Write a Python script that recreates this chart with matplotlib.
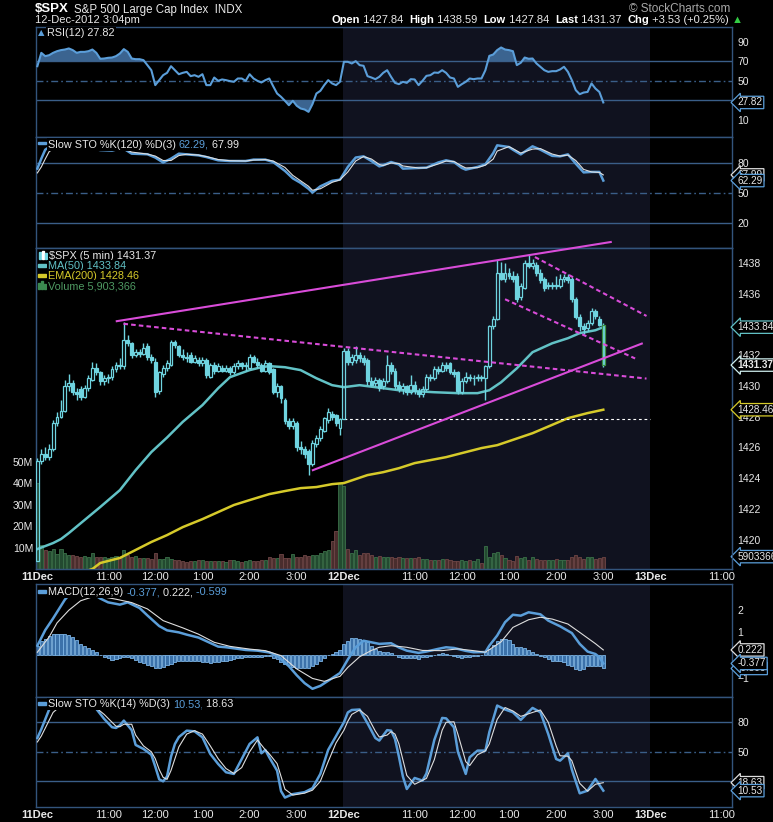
import matplotlib
matplotlib.use("Agg")
import matplotlib.pyplot as plt
from matplotlib.patches import Rectangle

plt.rcParams["font.family"] = ["Liberation Sans", "DejaVu Sans"]

# ==========================================
# 1. data (5 min bars, 11-12 Dec 2012)
# ==========================================

opens = [
    1418.6, 1425.1, 1425.6, 1425.4, 1425.9, 1427.6, 1428.0, 1428.4, 1430.0, 1430.2,
    1429.6, 1429.8, 1429.3, 1429.9, 1430.4, 1431.2, 1430.9, 1430.3, 1430.5, 1430.6,
    1431.1, 1431.4, 1431.3, 1433.0, 1432.8, 1432.0, 1432.2, 1432.1, 1432.6, 1431.9,
    1431.6, 1429.7, 1430.8, 1431.2, 1431.4, 1432.9, 1432.6, 1432.0, 1431.9, 1432.0,
    1431.6, 1431.7, 1431.5, 1431.7, 1430.6, 1431.4, 1431.0, 1431.2, 1431.0, 1431.2,
    1430.9, 1431.3, 1431.5, 1431.3, 1431.2, 1431.9, 1431.6, 1431.4, 1431.0, 1431.5,
    1431.1, 1429.6, 1430.0, 1429.1, 1427.7, 1427.4, 1427.6, 1426.0, 1425.9, 1425.8,
    1424.9, 1426.2, 1426.6, 1427.1, 1427.8, 1428.2, 1428.1, 1427.3,
    1427.84, 1432.3,
    1431.6, 1431.7, 1432.0, 1431.8, 1431.7, 1430.3, 1430.2, 1430.4, 1430.0, 1430.3,
    1431.4, 1431.0, 1430.1, 1429.8, 1430.0, 1429.6, 1430.1, 1429.7, 1429.5, 1429.8,
    1430.6, 1430.5, 1431.1, 1431.0, 1431.4, 1431.5, 1430.9, 1430.9, 1429.6, 1430.3,
    1430.6, 1430.5, 1430.5, 1430.6, 1430.5, 1431.3, 1433.9, 1434.4, 1437.4, 1437.0,
    1437.4, 1437.2, 1437.2, 1435.8, 1436.4, 1438.0, 1437.8, 1437.9, 1437.4, 1437.0,
    1436.5, 1436.5, 1436.6, 1436.5, 1437.0, 1437.1, 1437.0, 1435.7, 1434.5, 1433.9,
    1433.8, 1434.1, 1434.9, 1434.4, 1434.0,
]
highs = [
    1425.3, 1425.9, 1426.0, 1426.2, 1427.8, 1428.3, 1429.1, 1430.4, 1430.8, 1430.4,
    1429.9, 1430.0, 1430.1, 1430.7, 1431.6, 1431.5, 1431.0, 1430.7, 1430.8, 1431.3,
    1431.6, 1431.8, 1434.2, 1433.3, 1432.9, 1432.4, 1432.4, 1432.8, 1432.8, 1432.1,
    1431.8, 1431.0, 1431.4, 1431.7, 1433.0, 1433.0, 1432.7, 1432.4, 1432.2, 1432.2,
    1432.0, 1431.9, 1431.9, 1431.8, 1431.5, 1431.6, 1431.5, 1431.4, 1431.4, 1431.3,
    1431.5, 1431.7, 1431.6, 1431.6, 1432.1, 1432.0, 1431.8, 1431.5, 1431.7, 1431.6,
    1431.2, 1430.2, 1430.1, 1429.2, 1427.9, 1427.9, 1427.7, 1426.4, 1426.1, 1425.9,
    1426.5, 1426.8, 1427.4, 1428.0, 1428.6, 1428.4, 1428.2, 1427.9,
    1432.5, 1432.5,
    1432.1, 1432.6, 1432.2, 1432.0, 1431.8, 1430.6, 1430.6, 1430.5, 1430.5, 1432.0,
    1431.6, 1431.2, 1430.3, 1430.2, 1430.1, 1430.7, 1430.3, 1429.9, 1430.0, 1430.8,
    1430.8, 1431.3, 1431.3, 1431.6, 1431.6, 1431.6, 1431.1, 1431.0, 1430.5, 1430.9,
    1430.8, 1430.7, 1430.8, 1430.7, 1431.4, 1434.0, 1434.6, 1438.2, 1438.1, 1438.0,
    1437.7, 1437.5, 1437.4, 1436.7, 1438.2, 1438.59, 1438.3, 1438.1, 1437.6, 1437.1,
    1436.8, 1436.8, 1437.2, 1437.3, 1437.3, 1437.3, 1437.1, 1435.8, 1434.7, 1434.1,
    1434.3, 1435.1, 1435.0, 1434.6, 1434.1,
]
lows = [
    1418.6, 1424.9, 1425.2, 1425.2, 1425.8, 1427.4, 1427.9, 1428.3, 1429.7, 1429.4,
    1429.1, 1429.1, 1429.2, 1429.7, 1430.3, 1430.7, 1430.1, 1430.1, 1430.2, 1430.4,
    1430.9, 1431.1, 1431.1, 1432.6, 1431.8, 1431.9, 1431.9, 1432.0, 1431.7, 1431.5,
    1429.3, 1429.5, 1430.6, 1431.0, 1431.3, 1432.5, 1431.9, 1431.7, 1431.6, 1431.5,
    1431.5, 1431.3, 1431.3, 1430.5, 1430.5, 1430.8, 1430.9, 1430.9, 1430.9, 1430.7,
    1430.8, 1431.1, 1431.1, 1431.0, 1431.1, 1431.5, 1431.2, 1430.9, 1430.9, 1430.8,
    1429.5, 1429.3, 1428.9, 1427.5, 1427.2, 1427.2, 1425.8, 1425.6, 1425.3, 1424.2,
    1424.8, 1426.0, 1426.4, 1427.0, 1427.6, 1427.8, 1427.4, 1426.8,
    1427.84, 1431.4,
    1431.4, 1431.5, 1431.6, 1431.4, 1430.1, 1430.0, 1430.0, 1429.7, 1429.8, 1430.2,
    1430.8, 1429.8, 1429.6, 1429.5, 1429.4, 1429.5, 1429.5, 1429.3, 1429.3, 1429.7,
    1430.3, 1430.4, 1430.8, 1430.9, 1431.0, 1430.8, 1430.6, 1429.5, 1429.5, 1430.2,
    1430.3, 1430.1, 1430.3, 1430.3, 1429.1, 1431.2, 1433.7, 1434.3, 1436.9, 1436.8,
    1437.0, 1436.8, 1435.5, 1435.6, 1436.3, 1437.7, 1437.6, 1437.2, 1436.7, 1436.2,
    1436.3, 1436.3, 1436.3, 1436.4, 1436.8, 1436.7, 1435.5, 1434.4, 1433.6, 1433.4,
    1433.6, 1434.0, 1434.4, 1433.9, 1431.23,
]
closes = [
    1425.1, 1425.6, 1425.4, 1425.9, 1427.6, 1428.0, 1428.4, 1430.0, 1430.2, 1429.6,
    1429.5, 1429.3, 1429.9, 1430.5, 1431.2, 1430.9, 1430.3, 1430.5, 1430.6, 1431.1,
    1431.4, 1431.3, 1433.0, 1432.8, 1432.0, 1432.2, 1432.1, 1432.5, 1431.9, 1431.7,
    1429.6, 1430.9, 1431.2, 1431.5, 1432.9, 1432.7, 1432.0, 1431.9, 1431.8, 1431.6,
    1431.8, 1431.5, 1431.7, 1430.7, 1431.4, 1431.0, 1431.3, 1431.0, 1431.2, 1430.9,
    1431.3, 1431.5, 1431.3, 1431.4, 1431.9, 1431.6, 1431.4, 1431.0, 1431.5, 1430.9,
    1429.6, 1430.0, 1429.2, 1427.7, 1427.4, 1427.7, 1426.0, 1425.9, 1425.6, 1424.9,
    1426.3, 1426.6, 1427.2, 1427.9, 1428.3, 1428.0, 1427.6, 1427.84,
    1432.3, 1431.6,
    1431.9, 1432.0, 1431.8, 1431.6, 1430.3, 1430.1, 1430.4, 1429.9, 1430.3, 1431.4,
    1431.0, 1430.0, 1429.8, 1430.0, 1429.6, 1430.1, 1429.7, 1429.5, 1429.8, 1430.6,
    1430.5, 1431.1, 1431.0, 1431.4, 1431.2, 1430.9, 1430.8, 1429.7, 1430.3, 1430.6,
    1430.5, 1430.5, 1430.6, 1430.5, 1431.3, 1433.9, 1434.4, 1437.4, 1437.0, 1437.4,
    1437.2, 1437.0, 1435.7, 1436.5, 1438.0, 1437.8, 1438.0, 1437.4, 1436.9, 1436.4,
    1436.6, 1436.6, 1436.5, 1437.0, 1437.1, 1436.9, 1435.7, 1434.5, 1433.9, 1433.7,
    1434.1, 1434.9, 1434.6, 1434.0, 1431.37,
]

# volume in millions
volumes = [
    40.0, 11.3, 9.0, 8.5, 9.4, 7.1, 9.4, 7.8, 6.6, 6.6,
    6.4, 5.9, 6.4, 5.9, 7.6, 5.7, 5.7, 5.9, 5.2, 5.5,
    6.1, 5.9, 9.0, 6.6, 5.9, 6.1, 5.2, 5.4, 5.2, 4.6,
    7.6, 4.8, 4.8, 5.5, 4.6, 4.2, 4.2, 3.9, 3.5, 3.7,
    3.9, 4.2, 4.2, 3.7, 3.7, 3.7, 3.7, 3.7, 3.5, 4.2,
    4.2, 3.9, 3.5, 3.7, 4.2, 3.9, 3.9, 4.2, 4.2, 5.7,
    5.2, 5.2, 7.1, 5.2, 5.2, 7.1, 5.9, 5.7, 6.6, 6.1,
    6.6, 6.6, 7.6, 8.4, 8.9, 13.4, 18.0, 40.0,
    39.0, 9.4,
    7.8, 9.0, 6.6, 7.6, 7.6, 6.6, 5.9, 6.1, 5.9, 5.5,
    5.9, 5.2, 5.5, 5.3, 5.4, 5.2, 5.2, 5.7, 4.9, 4.6,
    4.2, 4.2, 4.2, 4.8, 4.8, 4.2, 3.9, 3.9, 4.2, 3.9,
    4.2, 3.9, 4.6, 3.0, 10.8, 5.9, 7.6, 8.1, 6.6, 5.2,
    4.2, 3.9, 6.1, 5.2, 5.9, 4.2, 5.5, 4.6, 4.2, 4.2,
    4.2, 4.2, 4.6, 4.2, 4.2, 4.2, 5.9, 6.6, 5.9, 4.6,
    5.5, 5.5, 4.6, 5.2, 5.9,
]
last_volume = 5.903366

ma_idx = [0, 4, 6, 8, 12, 16, 21, 25, 29, 33, 37, 42, 46, 49, 54, 57, 59, 63,
          67, 71, 75, 78, 82, 86, 92, 101, 107, 112, 115, 118, 122, 126, 131,
          135, 138, 142, 144]
ma50 = [1419.38, 1419.77, 1420.03, 1420.42, 1421.27, 1422.12, 1423.22, 1424.52,
        1425.70, 1426.65, 1427.67, 1428.76, 1429.86, 1430.58, 1431.04, 1431.23,
        1431.30, 1431.23, 1431.04, 1430.51, 1430.06, 1429.93, 1430.06, 1429.93,
        1429.73, 1429.60, 1429.54, 1429.54, 1429.73, 1430.25, 1431.16, 1432.21,
        1432.79, 1433.12, 1433.45, 1433.64, 1433.84]

ema_idx = [10, 14, 16, 21, 25, 29, 33, 37, 42, 46, 50, 54, 59, 63, 67, 71, 75,
           78, 84, 88, 92, 96, 104, 113, 117, 126, 135, 140, 144]
ema200 = [1417.75, 1418.08, 1418.47, 1418.80, 1419.32, 1419.84, 1420.29, 1420.81,
          1421.33, 1421.79, 1422.25, 1422.57, 1422.96, 1423.16, 1423.35, 1423.42,
          1423.61, 1423.68, 1424.20, 1424.39, 1424.65, 1424.98, 1425.37, 1425.96,
          1426.15, 1426.93, 1427.91, 1428.24, 1428.46]

rsi = [
    65.0, 78.7, 75.3, 76.3, 78.7, 80.4, 81.5, 82.1, 83.2, 81.5,
    78.7, 79.7, 79.7, 80.4, 82.1, 78.7, 72.6, 72.9, 73.6, 73.9,
    75.3, 78.0, 82.5, 79.7, 72.9, 72.2, 72.2, 71.2, 66.1, 60.9,
    45.6, 50.7, 55.8, 58.2, 65.0, 60.9, 56.8, 58.2, 59.2, 54.8,
    55.8, 54.1, 56.8, 45.6, 45.6, 53.4, 50.0, 51.4, 50.7, 49.7,
    49.0, 52.4, 52.4, 50.0, 56.8, 52.4, 50.0, 48.3, 50.7, 52.4,
    44.5, 37.0, 33.6, 29.5, 25.0, 29.5, 24.4, 21.6, 20.6, 18.2,
    26.1, 37.0, 39.7, 45.6, 50.7, 47.3, 45.6, 49.0, 69.5, 69.5,
    67.8, 70.2, 66.1, 65.4, 54.8, 53.4, 51.7, 54.1, 58.2, 60.9,
    54.1, 47.9, 46.6, 49.0, 47.9, 51.7, 51.4, 45.6, 50.0, 55.1,
    55.8, 58.5, 58.2, 60.9, 58.2, 53.4, 52.4, 43.8, 46.6, 49.0,
    52.4, 51.7, 52.4, 52.4, 60.9, 75.6, 77.0, 81.5, 84.2, 82.1,
    81.5, 80.4, 66.1, 68.5, 73.9, 72.6, 72.9, 67.8, 64.4, 60.9,
    59.2, 59.9, 59.9, 61.6, 64.4, 59.2, 50.7, 40.4, 36.3, 38.0,
    38.6, 47.3, 42.1, 38.6, 27.82,
]

sto120_idx = [0, 1, 2, 3, 5, 8, 10, 13, 16, 19, 21, 22, 24, 28, 30, 32, 34, 36,
              38, 41, 43, 46, 49, 53, 55, 58, 60, 63, 65, 67, 69, 70, 72, 75, 77,
              79, 81, 83, 85, 87, 88, 90, 92, 93, 97, 99, 102, 104, 106, 108, 109,
              112, 114, 116, 117, 120, 121, 123, 126, 128, 131, 133, 135, 137,
              139, 141, 143, 144]
sto120_k = [74.3, 84.4, 93.4, 96.0, 97.0, 95.5, 94.8, 95.5, 93.0, 92.5, 94.5, 94.4,
            89.4, 88.8, 85.5, 80.5, 84.4, 89.4, 88.7, 87.7, 86.0, 82.7, 82.0, 82.0,
            83.4, 83.4, 81.0, 72.0, 64.5, 59.9, 54.0, 50.2, 56.5, 62.0, 63.2, 76.0,
            85.5, 86.7, 82.0, 76.6, 77.7, 81.0, 78.5, 74.3, 75.0, 75.3, 80.5, 82.7,
            81.0, 75.0, 73.3, 76.0, 78.7, 90.0, 97.8, 96.1, 93.4, 88.7, 96.8, 93.4,
            87.2, 86.7, 88.7, 79.3, 70.5, 71.0, 71.0, 62.29]
sto120_d = [70.0, 76.0, 84.0, 91.5, 96.5, 96.0, 95.0, 95.2, 93.5, 92.8, 93.5, 94.2,
            91.0, 89.0, 87.0, 82.5, 82.5, 87.5, 88.8, 88.0, 86.5, 83.5, 82.3, 82.0,
            83.0, 83.4, 82.0, 75.5, 67.5, 62.0, 56.5, 52.5, 54.0, 60.5, 63.0, 71.0,
            82.0, 86.5, 84.0, 78.5, 77.5, 80.0, 79.5, 77.0, 75.0, 75.2, 79.0, 82.0,
            81.5, 77.0, 75.0, 75.3, 77.8, 84.0, 92.0, 96.5, 94.5, 90.0, 94.0, 94.5,
            89.0, 87.0, 88.0, 82.5, 73.5, 71.0, 70.5, 67.99]

macd_idx = [0, 2, 4, 7, 9, 11, 13, 16, 18, 21, 23, 26, 28, 31, 33, 36, 38, 41,
            43, 46, 48, 51, 53, 56, 59, 61, 64, 66, 68, 70, 72, 75, 77, 79, 81,
            83, 85, 87, 90, 92, 94, 97, 99, 102, 104, 106, 109, 111, 114, 115,
            117, 119, 121, 123, 125, 128, 130, 133, 136, 138, 140, 142, 143, 144]
macd_line = [0.41, 1.10, 1.62, 2.45, 2.85, 3.00, 2.85, 2.50, 2.33, 2.23, 2.33,
             2.08, 1.75, 1.28, 1.09, 1.00, 0.90, 0.77, 0.61, 0.37, 0.34, 0.27,
             0.22, 0.19, 0.11, -0.03, -0.50, -0.90, -1.25, -1.50, -1.37, -1.03,
             -0.80, -0.20, 0.34, 0.63, 0.56, 0.49, 0.52, 0.33, 0.19, 0.09, 0.15,
             0.27, 0.34, 0.31, 0.18, 0.12, 0.13, 0.41, 0.86, 1.45, 1.78, 1.74,
             1.89, 1.80, 1.52, 1.27, 0.97, 0.49, 0.15, 0.04, -0.10, -0.377]

signal_idx = [0, 3, 5, 8, 11, 15, 20, 24, 28, 32, 37, 41, 45, 49, 54, 58, 62,
              66, 70, 73, 76, 77, 79, 82, 85, 87, 90, 94, 98, 103, 107, 111, 114,
              118, 121, 125, 128, 131, 135, 138, 142, 144]
signal_line = [0.12, 0.80, 1.42, 1.98, 2.40, 2.63, 2.47, 2.32, 2.04, 1.52, 1.20,
               0.92, 0.56, 0.38, 0.26, 0.19, -0.03, -0.62, -1.04, -1.17, -1.00,
               -0.95, -0.55, -0.08, 0.20, 0.34, 0.41, 0.34, 0.20, 0.19, 0.27, 0.19,
               0.12, 0.58, 1.22, 1.56, 1.67, 1.59, 1.37, 1.00, 0.50, 0.222]

macd_hist = [
    0.41, 0.60, 0.71, 0.86, 0.93, 0.93, 0.93, 0.93, 0.90, 0.80,
    0.68, 0.49, 0.38, 0.30, 0.22, 0.12, 0.00, -0.07, -0.15, -0.22,
    -0.18, -0.13, -0.10, -0.07, -0.15, -0.22, -0.30, -0.37, -0.43, -0.50,
    -0.58, -0.58, -0.52, -0.45, -0.38, -0.30, -0.25, -0.25, -0.25, -0.25,
    -0.28, -0.28, -0.30, -0.33, -0.35, -0.33, -0.30, -0.28, -0.25, -0.22,
    -0.18, -0.14, -0.12, -0.10, -0.10, -0.10, -0.10, -0.08, -0.04, -0.05,
    -0.12, -0.20, -0.30, -0.38, -0.45, -0.52, -0.56, -0.58, -0.58, -0.58,
    -0.50, -0.38, -0.25, -0.12, 0.00, 0.06, 0.12, 0.20,
    0.49, 0.63,
    0.74, 0.75, 0.71, 0.66, 0.56, 0.41, 0.27, 0.19, 0.12, 0.12,
    0.07, 0.00, -0.07, -0.13, -0.13, -0.13, -0.13, -0.18, -0.10, -0.07,
    -0.03, 0.00, 0.04, 0.09, 0.04, 0.00, -0.03, -0.07, -0.13, -0.10,
    -0.07, -0.04, -0.03, 0.01, 0.12, 0.27, 0.44, 0.63, 0.71, 0.71,
    0.66, 0.49, 0.37, 0.34, 0.29, 0.22, 0.15, 0.04, -0.03, -0.10,
    -0.18, -0.25, -0.25, -0.28, -0.32, -0.43, -0.47, -0.62, -0.65, -0.62,
    -0.50, -0.47, -0.47, -0.47, -0.599,
]

sto14_idx = [0, 1, 3, 4, 6, 10, 14, 15, 17, 19, 20, 21, 22, 24, 25, 27, 29, 30,
             31, 32, 33, 34, 35, 36, 38, 40, 42, 44, 46, 48, 50, 52, 54, 56, 57,
             58, 59, 61, 62, 63, 65, 68, 70, 72, 74, 76, 78, 79, 80, 82, 84, 86,
             87, 89, 90, 91, 92, 93, 94, 96, 98, 99, 101, 103, 104, 106, 107, 109,
             110, 112, 114, 115, 117, 119, 121, 123, 126, 128, 130, 132, 133, 135,
             136, 138, 140, 142, 144]
sto14_k = [64.0, 73.0, 93.0, 97.0, 98.0, 95.0, 95.0, 93.6, 83.4, 75.0, 74.2, 77.0,
           81.7, 72.0, 57.0, 52.9, 47.0, 35.0, 22.0, 20.0, 25.0, 45.0, 58.0, 65.0,
           71.5, 70.8, 64.7, 47.8, 37.6, 29.2, 27.5, 42.7, 58.0, 64.7, 48.5, 51.9,
           44.4, 30.8, 10.0, 3.5, 7.0, 9.0, 13.0, 27.5, 52.0, 66.0, 80.0, 90.0,
           92.5, 93.0, 79.0, 64.0, 61.4, 72.0, 71.5, 63.0, 45.0, 25.0, 12.2, 23.4,
           20.7, 28.0, 62.0, 84.4, 84.0, 74.9, 50.0, 27.5, 44.4, 51.2, 51.2, 70.0,
           97.0, 93.0, 90.2, 82.4, 94.6, 90.2, 68.0, 42.7, 41.0, 48.5, 32.0, 7.8,
           10.5, 22.4, 10.53]
sto14_d = [60.0, 66.0, 82.0, 90.0, 97.0, 95.5, 95.2, 94.5, 88.0, 80.0, 76.0, 75.5,
           78.0, 78.0, 67.0, 56.0, 50.0, 43.0, 32.0, 24.0, 22.0, 31.0, 43.0, 55.0,
           68.0, 71.5, 68.0, 56.0, 43.0, 33.0, 28.0, 34.0, 50.0, 62.0, 57.0, 52.0,
           48.0, 38.0, 25.0, 12.0, 6.0, 8.0, 11.0, 20.0, 40.0, 59.0, 72.0, 81.0,
           88.0, 92.5, 86.0, 71.0, 65.0, 67.0, 70.5, 68.0, 58.0, 42.0, 26.0, 17.0,
           21.0, 23.0, 42.0, 72.0, 80.0, 80.5, 68.0, 40.0, 36.0, 47.0, 51.0, 58.0,
           83.0, 95.0, 91.5, 86.0, 90.0, 92.5, 80.0, 56.0, 46.0, 45.5, 41.0, 18.0,
           10.0, 17.0, 18.63]

# hand-drawn trend lines: (bar index pair, price pair)
trend_solid = [([20.2, 145.9], [1434.23, 1439.39]),
               ([70.1, 153.8], [1424.52, 1432.77])]
trend_dashed = [([21.9, 155.0], [1434.06, 1430.49]),
                ([126.6, 155.0], [1438.41, 1434.57]),
                ([119.0, 152.1], [1435.66, 1431.80])]
prev_close = 1427.84

xtick_idx = [0, 18, 30, 42, 54, 66, 78, 96, 108, 120, 132, 144, 156, 174]
xtick_text = ["11Dec", "11:00", "12:00", "1:00", "2:00", "3:00", "12Dec",
              "11:00", "12:00", "1:00", "2:00", "3:00", "13Dec", "11:00"]
date_ticks = ["11Dec", "12Dec", "13Dec"]

# ==========================================
# 2. style
# ==========================================

W, H = 773, 822
SHADE = "#10121f"
GRID = "#3a5e88"
SPINE = "#33547c"
BLUE = "#5b9ed9"
WHITE = "#dedede"
CANDLE = "#6fd4e0"
MA_COLOR = "#62c2c6"
EMA_COLOR = "#d6ca2a"
MAGENTA = "#d94cd9"
TXT = "#e8e8e8"
XLIM = (-0.35, 176.75)
DASHDOT = (0, (5, 2.2, 1.2, 2.2))
PRICE_LIM = (1418.06, 1438.98)
VOL_LIM = (0, 149.5)

bar_idx = list(range(len(closes)))

fig = plt.figure(figsize=(W / 100, H / 100), dpi=100, facecolor="black")


def panel(top, bottom, ylim):
    ax = fig.add_axes([36 / W, 1 - bottom / H, (732 - 36) / W, (bottom - top) / H])
    ax.set_facecolor("black")
    ax.axvspan(77.75, 155.9, color=SHADE, lw=0, zorder=0)
    ax.set_xlim(*XLIM)
    ax.set_ylim(*ylim)
    for s in ax.spines.values():
        s.set_color(SPINE)
        s.set_linewidth(1)
    ax.yaxis.tick_right()
    ax.tick_params(axis="y", length=0, pad=4, labelsize=7.5, labelcolor=TXT)
    ax.tick_params(axis="x", length=0, labelbottom=False)
    return ax


def levels(ax, solid, mid):
    for v in solid:
        ax.axhline(v, color=GRID, lw=1, zorder=1)
    ax.axhline(mid, color=GRID, lw=1, ls=DASHDOT, zorder=1)


def tag(ax, value, text, edge, bold=False):
    ax.text(1.008, value, text, transform=ax.get_yaxis_transform(),
            va="center", ha="left", fontsize=7.2, color=TXT,
            fontweight="bold" if bold else "normal", clip_on=False, zorder=10,
            bbox=dict(boxstyle="larrow,pad=0.12", facecolor="black",
                      edgecolor=edge, linewidth=0.9))


def time_labels(ax):
    ax.set_xticks(xtick_idx)
    ax.set_xticklabels(xtick_text)
    ax.tick_params(axis="x", labelbottom=True, length=0, pad=2,
                   labelsize=8, labelcolor=TXT)
    for lab in ax.get_xticklabels():
        if lab.get_text() in date_ticks:
            lab.set_fontweight("bold")


# ==========================================
# 3. RSI
# ==========================================

ax_rsi = panel(27, 137, (-7.6, 105.2))
levels(ax_rsi, [70, 30], 50)
ax_rsi.fill_between(bar_idx, rsi, 70, where=[v >= 70 for v in rsi],
                    interpolate=True, color="#3b6490", lw=0, zorder=2)
ax_rsi.fill_between(bar_idx, rsi, 30, where=[v <= 30 for v in rsi],
                    interpolate=True, color="#3b6490", lw=0, zorder=2)
ax_rsi.plot(bar_idx, rsi, color=BLUE, lw=1.5, zorder=3)
ax_rsi.set_yticks([10, 50, 70, 90])
tag(ax_rsi, 27.82, "27.82", BLUE)

# ==========================================
# 4. Slow STO (120)
# ==========================================

ax_s1 = panel(137, 248.3, (-6.0, 106.2))
levels(ax_s1, [80, 20], 50)
ax_s1.plot(sto120_idx, sto120_k, color=BLUE, lw=1.8, zorder=3)
ax_s1.plot(sto120_idx, sto120_d, color=WHITE, lw=0.8, zorder=4)
ax_s1.set_yticks([20, 50, 80])
tag(ax_s1, 67.99, "67.99", WHITE)
tag(ax_s1, 62.29, "62.29", BLUE)

# ==========================================
# 5. price + volume
# ==========================================

ax_vol = panel(248.3, 569.3, VOL_LIM)
ax_vol.yaxis.tick_left()
ax_vol.set_yticks([10, 20, 30, 40, 50])
ax_vol.set_yticklabels(["10M", "20M", "30M", "40M", "50M"])
ax_vol.tick_params(axis="y", length=0, pad=2, labelsize=7.5, labelcolor=TXT)

vol_face, vol_edge = [], []
for i in bar_idx:
    up = i == 0 or closes[i] >= closes[i - 1]
    vol_face.append("#234a30" if up else "#4a2d2d")
    vol_edge.append("#3b7049" if up else "#6f4646")
ax_vol.bar(bar_idx, volumes, width=0.8, color=vol_face, edgecolor=vol_edge,
           linewidth=0.6, zorder=2)
tag(ax_vol, last_volume, "5903366", BLUE)

ax = fig.add_axes(ax_vol.get_position().bounds)
ax.patch.set_visible(False)
ax.set_xlim(*XLIM)
ax.set_ylim(*PRICE_LIM)
for s in ax.spines.values():
    s.set_color(SPINE)
ax.yaxis.tick_right()
ax.tick_params(axis="y", length=0, pad=4, labelsize=7.5, labelcolor=TXT)
ax.set_yticks([1420, 1422, 1424, 1426, 1428, 1430, 1432, 1436, 1438])
time_labels(ax)

ax.plot(ema_idx, ema200, color=EMA_COLOR, lw=1.8, zorder=3)
ax.plot(ma_idx, ma50, color=MA_COLOR, lw=1.8, zorder=3)
ax.hlines(prev_close, 78, 156, color="white", lw=0.8, ls=(0, (2.5, 2.5)), zorder=3)

tops = [max(o, c) for o, c in zip(opens, closes)]
bots = [min(o, c) for o, c in zip(opens, closes)]
ax.vlines(bar_idx, tops, highs, color=CANDLE, lw=1, zorder=4)
ax.vlines(bar_idx, lows, bots, color=CANDLE, lw=1, zorder=4)
bw = 0.74
for i in bar_idx:
    up = closes[i] >= opens[i]
    edge = "#3d8f42" if i == bar_idx[-1] else CANDLE
    ax.add_patch(Rectangle((i - bw / 2, bots[i]), bw, max(tops[i] - bots[i], 0.03),
                           facecolor="none" if up else CANDLE, edgecolor=edge,
                           lw=0.9, zorder=5))

for xs, ys in trend_solid:
    ax.plot(xs, ys, color=MAGENTA, lw=1.5, zorder=6, clip_on=False)
for xs, ys in trend_dashed:
    ax.plot(xs, ys, color=MAGENTA, lw=1.5, ls=(0, (2.2, 1.5)), zorder=6)

tag(ax, 1433.84, "1433.84", MA_COLOR)
tag(ax, 1431.37, "1431.37", "#cfefef", bold=True)
tag(ax, 1428.46, "1428.46", EMA_COLOR)

# ==========================================
# 6. MACD
# ==========================================

ax_m = panel(584.3, 696.7, (-1.85, 3.13))
ax_m.bar(bar_idx, macd_hist, width=0.8, color="#3c72aa", edgecolor="#7db5e6",
         linewidth=0.6, zorder=2)
ax_m.plot(macd_idx, macd_line, color=BLUE, lw=1.8, zorder=3)
ax_m.plot(signal_idx, signal_line, color=WHITE, lw=0.8, zorder=4)
ax_m.set_yticks([-1, 1, 2])
tag(ax_m, -0.599, "-0.599", BLUE)
tag(ax_m, 0.222, "0.222", WHITE)
tag(ax_m, -0.377, "-0.377", BLUE)

# ==========================================
# 7. Slow STO (14)
# ==========================================

ax_s2 = panel(696.7, 807.3, (-6.4, 106.0))
levels(ax_s2, [80, 20], 50)
ax_s2.plot(sto14_idx, sto14_k, color=BLUE, lw=1.8, zorder=3)
ax_s2.plot(sto14_idx, sto14_d, color=WHITE, lw=0.8, zorder=4)
ax_s2.set_yticks([50, 80])
tag(ax_s2, 18.63, "18.63", WHITE)
tag(ax_s2, 10.53, "10.53", BLUE)
time_labels(ax_s2)

# ==========================================
# 8. header and legends (pixel coordinates)
# ==========================================

top = fig.add_axes([0, 0, 1, 1], zorder=50)
top.set_axis_off()
top.set_xlim(0, W)
top.set_ylim(H, 0)

BOX = dict(facecolor="black", edgecolor="none", pad=0.8)


def chain(x, y, parts, size=7.8, box=True, va="top"):
    t = top.text(x, y, parts[0][0], color=parts[0][1], fontsize=size,
                 fontweight=parts[0][2], va=va, ha="left",
                 bbox=BOX if box else None)
    for s, c, wgt in parts[1:]:
        t = top.annotate(s, xy=(1, 0), xycoords=t, xytext=(0, 0),
                         textcoords="offset points", color=c, fontsize=size,
                         fontweight=wgt, va="bottom", ha="left",
                         bbox=BOX if box else None)
    return t


top.text(35, 12.5, "$SPX", color="white", fontsize=9.5, fontweight="bold",
         va="baseline")
top.text(74, 12.5, "S&P 500 Large Cap Index  INDX", color=TXT, fontsize=8.3,
         va="baseline")
top.text(730, 12, "\u00a9 StockCharts.com", color="#a8a8a8", fontsize=8.5,
         ha="right", va="baseline")
top.text(35, 23, "12-Dec-2012 3:04pm", color=TXT, fontsize=8, va="baseline")
chain(331, 23, [("Open", "white", "bold"), (" 1427.84  ", TXT, "normal"),
                ("High", "white", "bold"), (" 1438.59  ", TXT, "normal"),
                ("Low", "white", "bold"), (" 1427.84  ", TXT, "normal"),
                ("Last", "white", "bold"), (" 1431.37  ", TXT, "normal"),
                ("Chg", "white", "bold"), (" +3.53 (+0.25%) ", TXT, "normal"),
                ("\u25b2", "#33cc44", "normal")],
      size=8, box=False, va="baseline")

# panel legends
top.text(38, 28.5, "\u25b2", color=BLUE, fontsize=6, va="top",
         family=["DejaVu Sans"])
chain(47, 28.5, [("RSI(12) 27.82", TXT, "normal")])

top.add_patch(Rectangle((38, 142), 8, 2.5, color=BLUE, zorder=5))
chain(48, 139.5, [("Slow STO %K(120) %D(3) ", TXT, "normal"),
                  ("62.29,", BLUE, "normal"), (" 67.99", TXT, "normal")])

top.add_patch(Rectangle((39, 252), 2, 7, color=CANDLE))
top.add_patch(Rectangle((42, 251), 2, 8, color="white"))
top.add_patch(Rectangle((45, 253), 2, 6, color=CANDLE))
chain(49, 251, [("$SPX (5 min) 1431.37", TXT, "normal")])
top.add_patch(Rectangle((38, 264), 8, 2.5, color=MA_COLOR))
chain(48, 261, [("MA(50) 1433.84", MA_COLOR, "normal")])
top.add_patch(Rectangle((38, 274), 8, 2.5, color=EMA_COLOR))
chain(48, 271, [("EMA(200) 1428.46", EMA_COLOR, "normal")])
top.add_patch(Rectangle((38, 283), 2, 6, color="#3b8a50"))
top.add_patch(Rectangle((41, 281), 2, 8, color="#3b8a50"))
top.add_patch(Rectangle((44, 284), 2, 5, color="#3b8a50"))
chain(48, 281, [("Volume 5,903,366", "#4f9a63", "normal")])

top.add_patch(Rectangle((38, 590), 8, 2.5, color=BLUE, zorder=5))
chain(48, 587, [("MACD(12,26,9) ", TXT, "normal"), ("-0.377,", BLUE, "normal"),
                (" 0.222,", TXT, "normal"), (" -0.599", BLUE, "normal")])

top.add_patch(Rectangle((38, 702), 8, 2.5, color=BLUE, zorder=5))
chain(48, 699, [("Slow STO %K(14) %D(3) ", TXT, "normal"),
                ("10.53,", BLUE, "normal"), (" 18.63", TXT, "normal")])

fig.savefig("out.png", dpi=100, facecolor="black")
